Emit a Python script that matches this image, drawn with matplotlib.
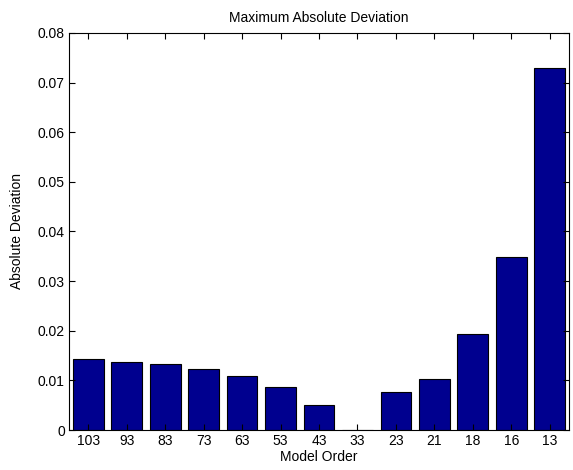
import numpy as np
import matplotlib.pyplot as plt

plt.rcParams['font.family'] = ['Liberation Sans', 'DejaVu Sans']

model_orders = ['103', '93', '83', '73', '63', '53', '43', '33', '23', '21', '18', '16', '13']
abs_dev = [0.01425, 0.01377, 0.0133, 0.01236, 0.01088, 0.0086, 0.0051, 0.0,
           0.00766, 0.01028, 0.01935, 0.0349, 0.0729]

fig = plt.figure(figsize=(5.73, 4.70), dpi=100)
ax = fig.add_axes([0.1204, 0.0851, 0.8726, 0.8447])

pos = np.arange(1, len(model_orders) + 1)
ax.bar(pos, abs_dev, width=0.8, color='#00008F', edgecolor='black', linewidth=0.8)

ax.set_xlim(0.5, len(model_orders) + 0.5)
ax.set_ylim(0, 0.08)
ax.set_xticks(pos)
ax.set_xticklabels(model_orders)
ax.set_yticks(np.arange(0, 0.081, 0.01))
ax.set_yticklabels(['0', '0.01', '0.02', '0.03', '0.04', '0.05', '0.06', '0.07', '0.08'])
ax.tick_params(direction='in', top=True, right=True, length=4, labelsize=10, pad=3)
for s in ax.spines.values():
    s.set_linewidth(0.8)

ax.set_title('Maximum Absolute Deviation', fontsize=10, pad=8)
ax.set_xlabel('Model Order', fontsize=10, labelpad=1)
ax.set_ylabel('Absolute Deviation', fontsize=10, labelpad=10)

fig.savefig('out.png', dpi=100)
